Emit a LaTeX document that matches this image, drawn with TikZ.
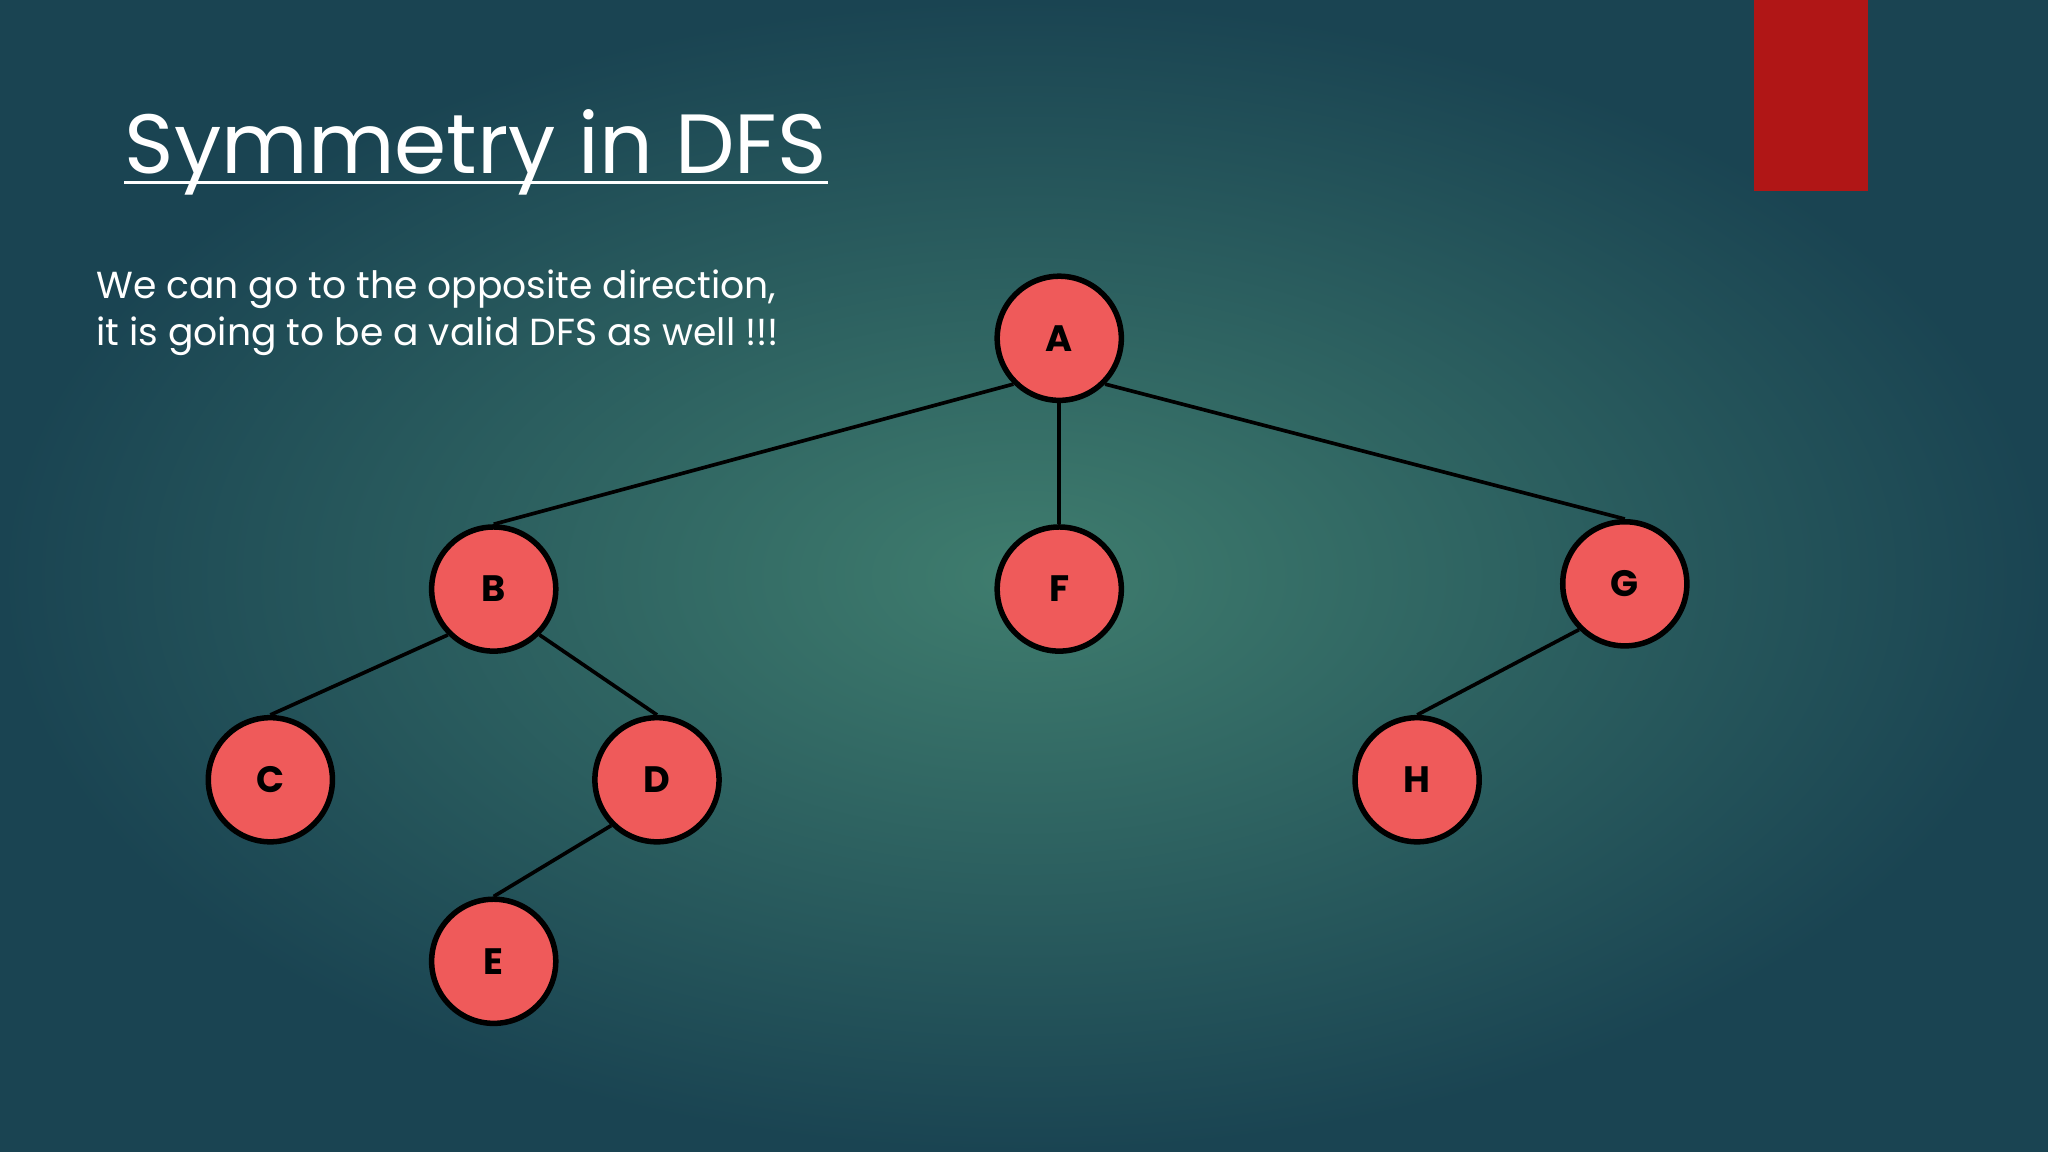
\documentclass[tikz,border=0pt]{standalone}
\usepackage{fontspec}
\setmainfont{Poppins}
\begin{document}
\begin{tikzpicture}[x=0.01cm,y=-0.01cm,
  tnode/.style={circle,draw=black,line width=1.2pt,fill=nodered,minimum size=0.95cm,inner sep=0pt,font=\fontsize{8}{8}\selectfont\bfseries},
  edge/.style={line width=0.8pt,black}]
\definecolor{nodered}{HTML}{EF5A5A}
\definecolor{bgin}{HTML}{3F7D6E}
\definecolor{bgout}{HTML}{1A4452}
\definecolor{barred}{HTML}{B01616}
\useasboundingbox (0,0) rectangle (1568,882);
\shade[inner color=bgin,outer color=bgout] (0,0) rectangle (1568,882);
\fill[barred] (1343,0) rectangle (1430,146);
\node[anchor=base west,inner sep=0pt,text=white,font=\fontsize{18.3}{22}\selectfont] (title) at (95,133) {Symmetry in DFS};
\draw[white,line width=0.6pt] (title.base west) ++(0,7) coordinate (u1) -- (u1 -| title.east);
\node[anchor=north west,inner sep=0pt,text=white,align=left,font=\fontsize{8.2}{10.2}\selectfont] (txt) at (73,206) {We can go to the opposite direction,\\it is going to be a valid DFS as well !!!};
\node[tnode] (A) at (811,259) {A};
\node[tnode] (B) at (378,451) {B};
\node[tnode] (F) at (811,451) {F};
\node[tnode] (G) at (1244,447) {G};
\node[tnode] (C) at (207,597) {C};
\node[tnode] (D) at (503,597) {D};
\node[tnode] (E) at (378,736) {E};
\node[tnode] (H) at (1085,597) {H};
\draw[edge] (A.south west) -- (B.north);
\draw[edge] (A) -- (F);
\draw[edge] (A.south east) -- (G.north);
\draw[edge] (B.south west) -- (C.north);
\draw[edge] (B.south east) -- (D.north);
\draw[edge] (D.south west) -- (E.north);
\draw[edge] (G.south west) -- (H.north);
\end{tikzpicture}
\end{document}
